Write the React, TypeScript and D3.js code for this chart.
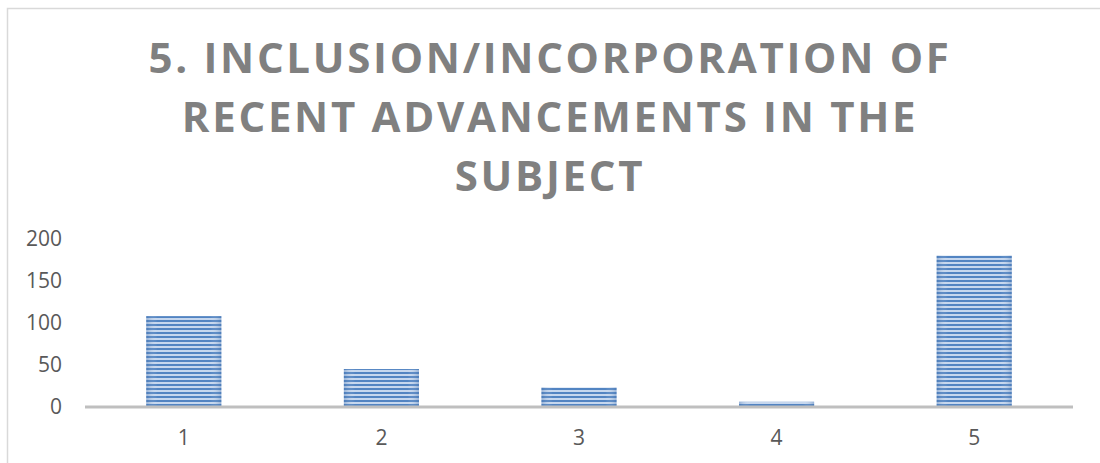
import React from "react";
import * as d3 from "d3";

const titleLines = ["5. INCLUSION/INCORPORATION OF", "RECENT ADVANCEMENTS IN THE", "SUBJECT"];
const categories = ["1", "2", "3", "4", "5"];
const values = [107, 44, 22, 5, 179];
const yTicks = [0, 50, 100, 150, 200];

const W = 1100;
const H = 463;

export default function App() {
  const x = d3.scaleBand<string>().domain(categories).range([85, 1073]).paddingInner(0.62).paddingOuter(0.31);
  const y = d3.scaleLinear().domain([0, 200]).range([406, 238]);
  const font = "'Open Sans', 'Noto Sans', sans-serif";
  return (
    <div style={{ position: "absolute", left: 0, top: 0 }}>
      <svg width={W} height={H} viewBox={`0 0 ${W} ${H}`} style={{ display: "block" }}>
        <defs>
          <pattern id="stripes" width="8" height="4" patternUnits="userSpaceOnUse">
            <rect x="0" y="0" width="8" height="4" fill="#c6d7ee" />
            <rect x="0" y="0" width="8" height="2" fill="#5284c2" />
          </pattern>
          <linearGradient id="shade" x1="0" x2="1" y1="0" y2="0">
            <stop offset="0" stopColor="#3a6aa8" stopOpacity="0.35" />
            <stop offset="0.15" stopColor="#ffffff" stopOpacity="0" />
            <stop offset="0.85" stopColor="#ffffff" stopOpacity="0" />
            <stop offset="1" stopColor="#3a6aa8" stopOpacity="0.35" />
          </linearGradient>
        </defs>
        <rect x={0} y={0} width={W} height={H} fill="#ffffff" />
        <rect x={7.5} y={8.5} width={W} height={H} fill="#ffffff" stroke="#d9d9d9" strokeWidth={1.5} />
        {titleLines.map((t, i) => (
          <text
            key={i}
            x={550}
            y={73 + i * 59}
            textAnchor="middle"
            fontFamily={font}
            fontWeight={700}
            fontSize={42}
            letterSpacing={2.7}
            fill="#808080"
          >
            {t}
          </text>
        ))}
        {yTicks.map((t) => (
          <text key={t} x={62} y={y(t)} dy="0.36em" textAnchor="end" fontFamily={font} fontSize={21} fill="#595959">
            {t}
          </text>
        ))}
        {categories.map((c, i) => (
          <g key={c}>
            <rect x={x(c)} y={y(values[i])} width={x.bandwidth()} height={y(0) - y(values[i])} fill="url(#stripes)" />
            <rect x={x(c)} y={y(values[i])} width={x.bandwidth()} height={y(0) - y(values[i])} fill="url(#shade)" />
          </g>
        ))}
        <line x1={85} x2={1073} y1={407} y2={407} stroke="#bfbfbf" strokeWidth={3} />
        {categories.map((c) => (
          <text
            key={c}
            x={(x(c) ?? 0) + x.bandwidth() / 2}
            y={437}
            dy="0.36em"
            textAnchor="middle"
            fontFamily={font}
            fontSize={21}
            fill="#595959"
          >
            {c}
          </text>
        ))}
      </svg>
    </div>
  );
}
